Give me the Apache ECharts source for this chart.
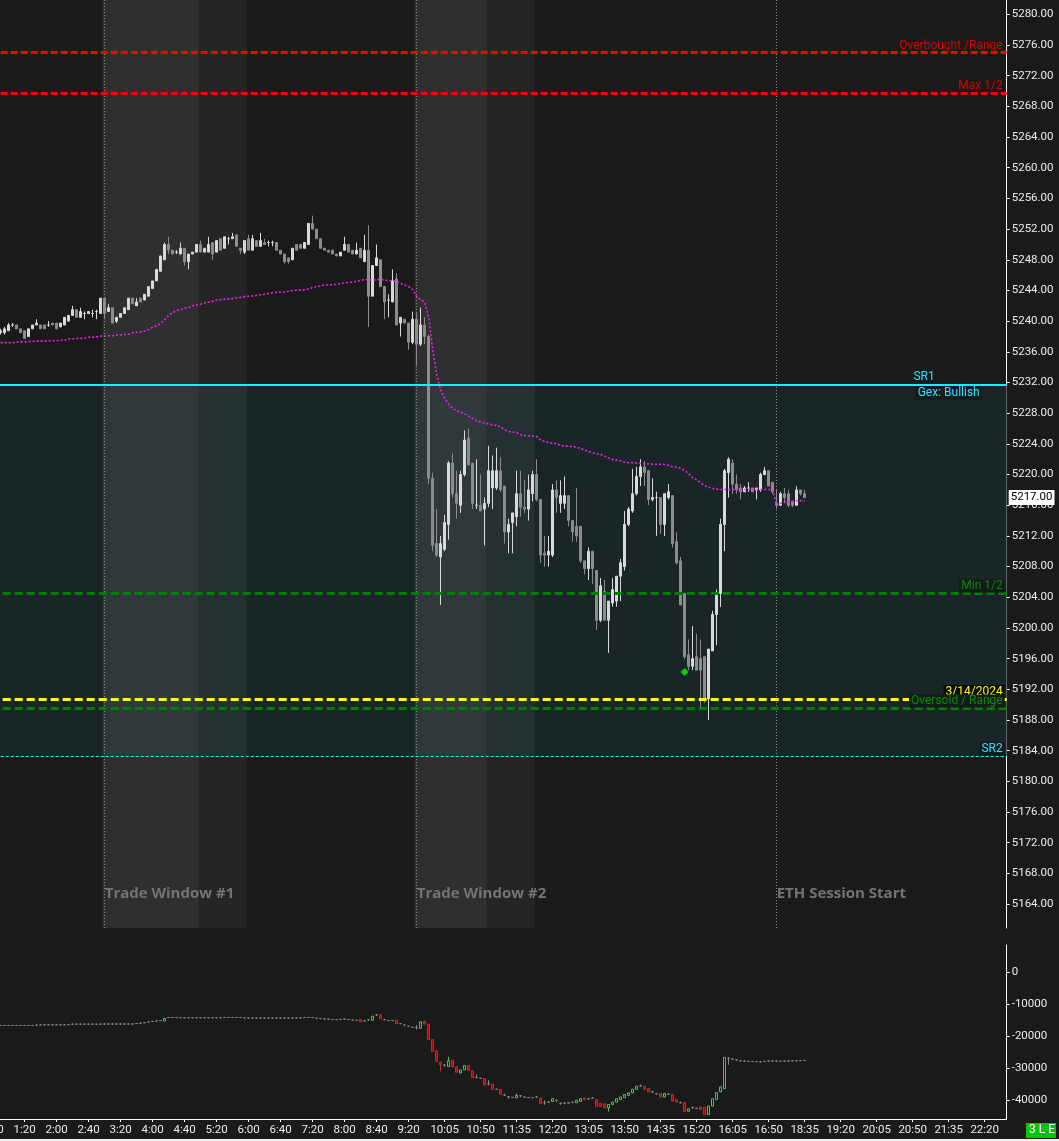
<!DOCTYPE html>
<html><head><meta charset="utf-8">
<script src="https://cdn.jsdelivr.net/npm/echarts@6/dist/echarts.min.js"></script>
<style>html,body{margin:0;padding:0;background:#1a1a1a;overflow:hidden}#c{width:1059px;height:1141px}</style>
</head><body><div id="c"></div><script>
// ---------- categories (5-minute bars, 17:00-18:00 break) ----------
const times = [];
(function(){
  const f = m => Math.floor(m/60) + ':' + String(m%60).padStart(2,'0');
  for (let m = 40; m <= 16*60+55; m += 5) times.push(f(m));
  for (let m = 18*60; m <= 22*60+45; m += 5) times.push(f(m));
})();
const dataStart = '0:50';
const timeTicks = ['0:40','1:20','2:00','2:40','3:20','4:00','4:40','5:20','6:00','6:40','7:20','8:00','8:40','9:20','10:05','10:50','11:35','12:20','13:05','13:50','14:35','15:20','16:05','16:50','18:35','19:20','20:05','20:50','21:35','22:20'];
const priceTicks = [5164,5168,5172,5176,5180,5184,5188,5192,5196,5200,5204,5208,5212,5216,5220,5224,5228,5232,5236,5240,5244,5248,5252,5256,5260,5264,5268,5272,5276,5280];
const flowTicks = [0,-10000,-20000,-30000,-40000];

// ---------- price bars [open, close, low, high] from 0:50 ----------
const priceBars = [
[5238.5,5238.75,5238.25,5239],[5238.5,5239,5238.25,5239.25],[5238.75,5239.5,5238.75,5239.75],[5239.5,5239.5,5239.25,5239.75],[5239.5,5239,5239,5239.5],[5239,5238.5,5238.5,5239],[5238.75,5237.75,5237.75,5238.75],[5238,5239,5238,5239],[5239,5239.5,5239,5239.5],[5239.5,5239.75,5239.5,5240.25],
[5239.5,5239,5239,5239.5],[5239.5,5239,5239,5239.5],[5239.5,5239.5,5239.25,5240],[5239.75,5239.5,5239.5,5239.75],[5239.75,5239,5239,5239.75],[5239.25,5239.75,5239.25,5239.75],[5239.5,5240.5,5239.5,5240.5],[5240,5240.75,5240,5240.75],[5240.75,5241.5,5240.75,5242],[5241.5,5240.5,5240.5,5241.5],
[5240.5,5241.25,5240.5,5241.75],[5241,5241,5240.25,5241.25],[5241,5241.25,5241,5241.25],[5241,5241,5240.5,5241.5],[5241.25,5241.25,5240.25,5241.5],[5241,5243,5241,5243],[5243,5241,5240.25,5243],[5241.25,5241.75,5241.25,5242.25],[5241.75,5239.75,5239.75,5241.75],[5240,5240.5,5239.75,5240.5],
[5240.5,5241,5240.5,5241],[5241,5241.75,5241,5241.75],[5241.5,5243,5241.5,5243],[5243,5242.25,5242.25,5243],[5242,5242.5,5242,5243],[5243,5242.5,5242.5,5243],[5242.75,5243.5,5242.75,5243.5],[5243.25,5244.5,5243.25,5244.5],[5244.25,5245.25,5244.25,5245.25],[5245.25,5246.75,5245.25,5246.75],
[5246.5,5248.5,5246.5,5248.5],[5248,5250,5248,5250.25],[5250,5249.25,5248.75,5251],[5249.25,5248.75,5248.75,5249.25],[5249,5249,5248.75,5249.25],[5248.75,5249.5,5248.75,5250.25],[5249.5,5247.75,5247.25,5249.5],[5247.75,5248.75,5246.75,5248.75],[5248.75,5249,5248.75,5249],[5249,5250,5249,5250],
[5250,5249,5249,5250.5],[5249,5249.5,5249,5249.5],[5249,5250,5249,5251],[5250.25,5248.75,5248,5250.25],[5249,5250.5,5249,5250.5],[5250.75,5249.25,5249.25,5250.75],[5249.5,5251,5249.5,5251],[5250.75,5250.75,5250,5251],[5250.75,5251,5250.75,5251.5],[5251.25,5249.75,5249.75,5251.25],
[5249.5,5249.25,5248.75,5249.5],[5249,5250.5,5248.75,5250.5],[5250.75,5249.25,5249.25,5251.25],[5249.25,5250.75,5249.25,5251.25],[5250.5,5249.75,5249.75,5250.5],[5249.75,5250.5,5249.75,5251.5],[5250.25,5250,5250,5250.75],[5250.25,5250.25,5249.75,5250.5],[5250.25,5250.25,5249.75,5250.5],[5250.25,5249.25,5249.25,5250.25],
[5249.25,5248.75,5248.75,5249.25],[5248.75,5247.75,5247.5,5248.75],[5248.25,5247.75,5247.5,5248.25],[5248,5249.5,5248,5249.5],[5250,5249.25,5249.25,5250],[5250,5249.5,5249.5,5250],[5249.5,5250.25,5249.5,5250.25],[5250,5252.75,5250,5252.75],[5252.75,5252,5252,5253.75],[5252,5250.75,5250.75,5252],
[5250.75,5249.5,5249.5,5250.75],[5249.5,5249.25,5249.25,5249.5],[5249.25,5249,5249,5249.25],[5249.25,5248.75,5248.75,5249.25],[5248.75,5248.5,5248.5,5248.75],[5248.5,5249,5248.5,5249],[5249.25,5250,5249.25,5251],[5250,5249,5249,5250],[5249.25,5248.75,5248.75,5249.25],[5248.75,5249.25,5248.75,5250.25],
[5249.5,5248.25,5248.25,5249.5],[5247.75,5249.25,5247.75,5251.25],[5249.25,5243.25,5239.25,5252.5],[5243.25,5247.25,5243.25,5247.25],[5247.25,5248.25,5247.25,5250],[5248,5244.5,5244.5,5248],[5244.5,5242.5,5240.25,5244.5],[5242.75,5242.75,5240.5,5243.5],[5242.5,5245.25,5242.5,5246.75],[5245.5,5239.5,5239.5,5246.25],
[5239.75,5240.5,5238,5240.5],[5240.25,5239.75,5239.75,5240.25],[5239.75,5237.25,5236.25,5239.75],[5237.25,5240.25,5237,5241.25],[5240.25,5237,5234.25,5241],[5237,5239.5,5236.75,5241.75],[5239.5,5238,5237,5240.5],[5238,5219.5,5218.75,5238.25],[5219.5,5210.75,5210,5220.25],[5211,5209.5,5209.25,5215.5],
[5209.25,5211,5203,5212],[5210.25,5213.75,5210,5214.75],[5213.5,5221.5,5211.5,5221.75],[5221.5,5217.5,5217,5222.75],[5217.5,5216.25,5214.25,5220.5],[5216,5220,5215,5220.5],[5220,5224.5,5219.75,5225.75],[5224.75,5221.25,5221.25,5226],[5221.5,5216.25,5215.5,5221.5],[5216,5216,5215.5,5222],
[5216,5215.25,5215.25,5220],[5215.5,5216.25,5210.75,5217],[5216.25,5220.5,5215.75,5223.75],[5218.25,5220.5,5215.5,5222.5],[5218.25,5220.5,5218,5223.5],[5220.5,5218,5217.75,5222.25],[5218.5,5212.5,5211,5218.5],[5212.5,5213.5,5209.75,5214.25],[5213.75,5215,5209.75,5215],[5214.5,5217.5,5213.25,5220.5],
[5217.5,5215.75,5214.5,5220.5],[5215.75,5215.5,5215,5219.25],[5215.5,5218,5214,5220],[5217.5,5220,5216.5,5220.5],[5220,5216.75,5216.5,5222],[5216.75,5209.5,5208.5,5216.75],[5209.75,5209.5,5208,5212],[5209.5,5210,5208,5212],[5209.5,5218,5209.25,5218.75],[5218,5217,5215,5219.25],
[5216.25,5217.25,5215,5219.25],[5216.25,5217.25,5215.5,5219.75],[5217.25,5214,5213.25,5217.25],[5214,5212.5,5211.25,5214],[5213.25,5212,5211.25,5218.25],[5213.25,5208.75,5208.5,5213.25],[5208.75,5207.75,5207,5208.75],[5207.75,5210,5206.25,5210.5],[5210,5207.75,5205.75,5210],[5207.5,5201,5199.75,5207.5],
[5201,5205.5,5200.75,5206.5],[5204.75,5201,5201,5206.25],[5201,5203.5,5196.75,5203.5],[5203.25,5205,5202.75,5206.5],[5203.5,5206.75,5202.75,5206.75],[5206.75,5208.5,5203.5,5209],[5208,5213.5,5207.5,5215.25],[5213.5,5215.5,5213.25,5215.75],[5215.25,5217.5,5215,5220.75],[5217.5,5219.75,5217.25,5221],
[5219.75,5221,5218.5,5222],[5221,5220.25,5218.5,5221.75],[5220.5,5216.75,5216,5220.5],[5216.75,5217,5216.5,5219.5],[5217,5217,5212,5217.75],[5217,5213.5,5212.25,5217],[5213.5,5217.5,5212,5217.5],[5217,5217.75,5216.75,5218.75],[5217.25,5211,5210.5,5217.25],[5211.25,5208.5,5208.25,5212.5],
[5208.75,5203,5203,5209.25],[5204.5,5196.25,5196,5204.5],[5196.5,5195,5194.5,5198.5],[5195,5196,5194.5,5200.25],[5196.25,5194.5,5194.5,5199.25],[5196,5194.5,5189.5,5198.5],[5196.25,5190.75,5190.25,5196.25],[5190.75,5197.25,5188,5197.25],[5197,5201.75,5197,5202.25],[5201.75,5204.5,5197.75,5205],
[5204.5,5213.5,5202.75,5214.25],[5213.5,5220.5,5210,5220.75],[5220.25,5222,5217,5222.25],[5221.5,5218.75,5217.5,5222],[5218.75,5218,5217.5,5220],[5218.25,5217.75,5216.75,5218.75],[5217.75,5218.25,5217.75,5218.5],[5218.25,5218.25,5217.75,5219],[5218.25,5217.75,5217.75,5218.25],[5218,5218.25,5216.75,5218.25],
[5218,5220,5217.75,5220.25],[5220,5220.5,5220,5221],[5220.5,5218.5,5218.5,5220.5],[5219,5217.75,5217.5,5219],[5216.25,5216,5215.5,5218],[5216,5217.5,5216,5217.75],[5217.5,5217,5216.25,5218.25],[5217.5,5216,5215.75,5218],[5216.5,5216,5215.75,5216.5],[5216,5218,5216,5218.5],
[5218,5217.5,5217.25,5218],[5217.5,5217,5217,5218]
];

// ---------- VWAP from 0:50 ----------
const vwap = [
5237.2,5237.2,5237.2,5237.2,5237.25,5237.3,5237.3,5237.35,5237.35,5237.4,
5237.4,5237.4,5237.45,5237.45,5237.45,5237.5,5237.5,5237.7,5237.7,5237.75,
5237.75,5237.8,5237.9,5237.9,5237.95,5238.05,5238.05,5238.1,5238.1,5238.2,
5238.2,5238.25,5238.3,5238.5,5238.55,5238.6,5238.7,5238.9,5239.2,5239.4,
5239.7,5240.2,5240.8,5241.1,5241.4,5241.5,5241.7,5241.8,5242.0,5242.1,
5242.2,5242.4,5242.5,5242.6,5242.75,5242.8,5242.85,5242.9,5242.95,5243.05,
5243.1,5243.2,5243.25,5243.3,5243.35,5243.45,5243.5,5243.6,5243.7,5243.75,
5243.8,5243.8,5243.9,5244.0,5244.05,5244.05,5244.1,5244.2,5244.4,5244.5,
5244.6,5244.7,5244.75,5244.75,5244.8,5244.9,5245.0,5245.05,5245.1,5245.2,
5245.3,5245.45,5245.4,5245.35,5245.4,5245.45,5245.35,5245.3,5245.25,5245.2,
5244.9,5244.7,5244.5,5244.1,5243.2,5242.8,5242.45,5240.5,5236.25,5233.0,
5231.0,5229.9,5229.2,5228.6,5228.3,5228.1,5227.9,5227.6,5227.3,5227.0,
5226.85,5226.7,5226.6,5226.45,5226.4,5226.2,5225.8,5225.6,5225.55,5225.45,
5225.2,5225.1,5225.05,5225.0,5224.95,5224.5,5224.3,5224.15,5224.1,5224.0,
5223.8,5223.7,5223.7,5223.65,5223.55,5223.4,5223.2,5223.0,5222.85,5222.7,
5222.6,5222.4,5222.15,5221.95,5221.9,5221.8,5221.6,5221.55,5221.55,5221.5,
5221.45,5221.4,5221.4,5221.35,5221.35,5221.35,5221.3,5221.2,5221.0,5220.95,
5220.8,5220.5,5220.1,5219.6,5219.3,5218.95,5218.55,5218.35,5218.2,5218.1,
5218.05,5218.05,5218.05,5218.05,5218.05,5218.05,5218.05,5218.05,5218.05,5218.05,
5218.05,5218.05,5218.05,5218.0,5216.0,5216.25,5216.4,5216.4,5216.5,5216.6,
5216.6,5216.6
];

// ---------- lower panel bars [open, close, low, high] from 0:50 ----------
const flowBars = [
[-16700,-16700,-16800,-16650],[-16700,-16700,-16800,-16650],[-16700,-16700,-16800,-16650],[-16700,-16700,-16800,-16650],[-16700,-16700,-16800,-16650],[-16700,-16700,-16800,-16650],[-16700,-16700,-16800,-16650],[-16700,-16700,-16800,-16650],[-16700,-16700,-16800,-16650],[-16600,-16600,-16700,-16500],
[-16550,-16550,-16650,-16450],[-16500,-16500,-16600,-16400],[-16500,-16500,-16600,-16400],[-16500,-16500,-16600,-16400],[-16500,-16500,-16600,-16400],[-16500,-16500,-16600,-16400],[-16500,-16500,-16600,-16400],[-16450,-16450,-16550,-16350],[-16300,-16300,-16400,-16200],[-16300,-16300,-16400,-16200],
[-16300,-16300,-16400,-16200],[-16300,-16300,-16400,-16200],[-16300,-16300,-16400,-16200],[-16300,-16300,-16400,-16200],[-16300,-16300,-16400,-16200],[-16300,-16300,-16400,-16200],[-16250,-16250,-16350,-16150],[-16250,-16250,-16350,-16150],[-16250,-16250,-16350,-16150],[-16250,-16250,-16350,-16150],
[-16250,-16250,-16350,-16150],[-16250,-16250,-16350,-16150],[-16250,-16250,-16350,-16150],[-16250,-16250,-16350,-16150],[-16100,-16100,-16200,-16000],[-16000,-16000,-16100,-15900],[-15850,-15850,-15950,-15750],[-15600,-15600,-15700,-15500],[-15450,-15450,-15550,-15350],[-15300,-15300,-15400,-15200],
[-15200,-15200,-15300,-15100],[-15300,-14450,-15300,-14400],[-14250,-14250,-14350,-14150],[-14200,-14200,-14300,-14100],[-14250,-14250,-14350,-14150],[-14300,-14300,-14400,-14200],[-14300,-14300,-14400,-14200],[-14300,-14300,-14400,-14200],[-14300,-14300,-14400,-14200],[-14300,-14300,-14400,-14200],
[-14300,-14300,-14400,-14200],[-14300,-14300,-14400,-14200],[-14300,-14300,-14400,-14200],[-14300,-14300,-14400,-14200],[-14300,-14300,-14400,-14200],[-14300,-14300,-14400,-14200],[-14200,-14200,-14300,-14100],[-14200,-14200,-14300,-14100],[-14200,-14200,-14300,-14100],[-14200,-14200,-14300,-14100],
[-14200,-14200,-14300,-14100],[-14350,-14350,-14450,-14250],[-14350,-14350,-14450,-14250],[-14350,-14350,-14450,-14250],[-14350,-14350,-14450,-14250],[-14350,-14350,-14450,-14250],[-14350,-14350,-14450,-14250],[-14350,-14350,-14450,-14250],[-14350,-14350,-14450,-14250],[-14350,-14350,-14450,-14250],
[-14350,-14350,-14450,-14250],[-14350,-14350,-14450,-14250],[-14350,-14350,-14450,-14250],[-14350,-14350,-14450,-14250],[-14350,-14350,-14450,-14250],[-14350,-14350,-14450,-14250],[-14200,-14200,-14300,-14100],[-14200,-14200,-14300,-14100],[-14200,-14200,-14300,-14100],[-14450,-14450,-14550,-14350],
[-14550,-14550,-14650,-14450],[-14650,-14650,-14750,-14550],[-14750,-14750,-14850,-14650],[-14850,-14850,-15000,-14700],[-14900,-14900,-15000,-14800],[-14800,-14800,-14900,-14700],[-14700,-14700,-14800,-14600],[-14850,-14850,-14950,-14750],[-15000,-15000,-15100,-14900],[-15100,-15100,-15200,-15000],
[-14800,-15600,-15650,-14750],[-15300,-15300,-15600,-15000],[-14900,-14900,-15200,-14700],[-15100,-13800,-15200,-13700],[-13400,-13400,-13700,-13100],[-13400,-14650,-14700,-13300],[-14900,-14900,-15100,-14700],[-15200,-15200,-15300,-15000],[-15200,-15200,-15300,-15050],[-15100,-16100,-16150,-15000],
[-16150,-16150,-16300,-16050],[-16550,-16550,-16700,-16450],[-16950,-16950,-17100,-16850],[-17300,-17300,-17450,-17200],[-17400,-17400,-17950,-16550],[-17600,-15600,-17700,-15400],[-15400,-16250,-16400,-15300],[-16300,-21100,-21200,-16200],[-21100,-24800,-24900,-21000],[-24600,-27950,-28000,-24500],
[-28200,-29000,-31150,-28100],[-29100,-29100,-29600,-28900],[-29550,-27750,-29600,-26500],[-27550,-29650,-29700,-27450],[-29650,-31350,-31400,-29550],[-31550,-30600,-31600,-30500],[-30600,-29250,-30650,-29150],[-29250,-30750,-30800,-29150],[-30850,-33050,-33100,-30750],[-32950,-32950,-33250,-32000],
[-33200,-33200,-33300,-33100],[-33250,-35350,-35400,-33150],[-35000,-35000,-35400,-33800],[-35050,-36650,-36700,-34950],[-36650,-36650,-36800,-36500],[-36650,-38200,-38250,-36550],[-38450,-38450,-38750,-38100],[-38950,-38950,-39600,-38850],[-39200,-39200,-39400,-39000],[-39300,-38550,-39400,-38000],
[-38700,-38700,-39100,-38500],[-39100,-39100,-39250,-38950],[-39250,-39250,-39400,-39100],[-39250,-39250,-39400,-39100],[-39050,-39050,-39200,-38800],[-39400,-41150,-41200,-39300],[-40850,-40850,-41500,-40100],[-40650,-40650,-40800,-40500],[-40450,-39600,-40500,-39500],[-40100,-40100,-40650,-40000],
[-41050,-41050,-41500,-40750],[-40950,-40950,-41300,-40800],[-40900,-40900,-41100,-40800],[-40700,-40700,-40900,-40550],[-40850,-40100,-40900,-40000],[-40450,-39600,-40500,-39500],[-39400,-39900,-40000,-39300],[-39600,-39600,-39950,-39400],[-39400,-39400,-39600,-39200],[-39800,-42000,-42100,-39700],
[-41050,-42000,-42100,-41000],[-41200,-42450,-42500,-41100],[-42450,-41400,-43600,-41300],[-41400,-40650,-41450,-40550],[-40650,-39600,-40700,-39500],[-39850,-39050,-39900,-38950],[-39250,-38300,-39300,-38200],[-38550,-37800,-38600,-37700],[-37800,-36650,-37850,-36500],[-36650,-35700,-36700,-35600],
[-35600,-35600,-35800,-35150],[-35700,-36650,-36700,-35600],[-36400,-37450,-37500,-36300],[-37450,-37450,-37800,-37150],[-38000,-38000,-38350,-37800],[-38000,-39050,-39100,-37900],[-39050,-38000,-39100,-37900],[-38150,-38150,-38350,-38000],[-38250,-40350,-40400,-38150],[-39900,-40650,-40700,-39800],
[-40850,-40850,-41000,-40500],[-40850,-43600,-43650,-40750],[-43500,-42750,-43550,-42650],[-42300,-42300,-42800,-42200],[-42600,-42600,-42800,-42400],[-42200,-42950,-43000,-42100],[-42250,-44550,-44600,-42150],[-44550,-41900,-44600,-41800],[-41900,-39600,-41950,-39500],[-39900,-37700,-39950,-37600],
[-37450,-35900,-37500,-35800],[-36400,-26700,-36450,-26600],[-26950,-26950,-29000,-26600],[-27200,-27200,-27400,-27000],[-27500,-27500,-27700,-27400],[-27750,-27750,-27900,-27600],[-27850,-27850,-28000,-27700],[-27950,-27950,-28100,-27850],[-27950,-27950,-28100,-27850],[-28000,-28000,-28100,-27900],
[-28100,-28100,-28250,-27950],[-27950,-27950,-28150,-27750],[-27800,-27800,-27950,-27650],[-27800,-27800,-27900,-27650],[-27850,-27850,-28000,-27700],[-27900,-27900,-28000,-27800],[-27850,-27850,-27950,-27700],[-27800,-27800,-27900,-27650],[-27750,-27750,-27850,-27650],[-27750,-27750,-27900,-27600],
[-27700,-27700,-27800,-27550],[-27650,-27650,-27750,-27500]
];

// ---------- levels / annotations ----------
const levelNames  = ['Overbought /Range','Max 1/2','SR1','Min 1/2','3/14/2024','Oversold / Range','SR2'];
const levelValues = [5275, 5269.75, 5231.75, 5204.5, 5190.75, 5189.5, 5183.25];
const gexLabel = 'Gex: Bullish';
const windowStarts = ['3:00','9:30'];
const windowMids   = ['5:00','11:00'];
const windowEnds   = ['6:00','12:00'];
const windowLabels = ['Trade Window #1','Trade Window #2'];
const sessionTime = '18:00';
const sessionLabel = 'ETH Session Start';
const signalTimes = ['15:05'];
const signalPrices = [5194.25];

// ---------- build ----------
const idx = t => times.indexOf(t);
const off = idx(dataStart);
const padBars = Array.from({length: off}, () => ['-','-','-','-']);
const padVals = Array.from({length: off}, () => '-');
const lastClose = priceBars[priceBars.length-1][1];

const FONT = 'Roboto, "Noto Sans", sans-serif';
const axisLabelStyle = {color:'#ececec', fontSize:11.5, fontFamily: FONT};

const levelStyle = {
  'Overbought /Range': {line:{color:'#ff0000',width:3,type:[7,3]}, text:'#d80000', bg:null},
  'Max 1/2':           {line:{color:'#ff0000',width:3,type:[7,3]}, text:'#d80000', bg:null},
  'SR1':               {line:{color:'#00ffff',width:2,type:'solid'}, text:'#30e0ff', bg:null, dx:70},
  'Min 1/2':           {line:{color:'#008000',width:3,type:[8,4]}, text:'#0a8a0a', bg:'#131b1b'},
  '3/14/2024':         {line:{color:'#ffff00',width:3,type:[8,4]}, text:'#ffff00', bg:'#050505'},
  'Oversold / Range':  {line:{color:'#008000',width:3,type:[8,4]}, text:'#0a8a0a', bg:'#131b1b'},
  'SR2':               {line:{color:'#00ffff',width:1,type:[3,2]}, text:'#30e0ff', bg:'#131b1b'}
};
const hidden = {color:'rgba(0,0,0,0)', width:0};

const levelLines = levelNames.map((n,k) => {
  const s = levelStyle[n];
  return {
    yAxis: levelValues[k],
    lineStyle: s.line,
    label: {show:true, formatter:n, position:'insideEndTop', distance:[(s.dx||2), 1],
            color:s.text, fontSize:12, fontFamily:FONT, backgroundColor: s.bg || 'transparent', padding:[1,2,0,2]}
  };
});
levelLines.push({
  yAxis: levelValues[levelNames.indexOf('SR1')],
  lineStyle: hidden,
  label:{show:true, formatter:gexLabel, position:'insideEndBottom', distance:[25,2], color:'#30e0ff',
         fontSize:12, fontFamily:FONT, backgroundColor:'#131b1b', padding:[1,2,0,2]}
});
levelLines.push({
  yAxis: lastClose, lineStyle: hidden,
  label:{show:true, formatter: lastClose.toFixed(2), position:'end', distance:2, color:'#000', backgroundColor:'#fff',
         fontSize:11.5, fontFamily:FONT, padding:[2,2,1,2]}
});
const vLines = windowStarts.concat([sessionTime]).map(t => ({
  xAxis: idx(t), lineStyle:{color:'#8c8c8c', width:1, type:[1,2]}, label:{show:false}
}));

const areas = [
  [{yAxis: levelValues[2], itemStyle:{color:'#1a2527'}}, {yAxis: levelValues[6]}]
];
windowStarts.forEach((s,k) => {
  areas.push([{xAxis: idx(s)-0.5, itemStyle:{color:'rgba(255,255,255,0.095)'}}, {xAxis: idx(windowMids[k])-0.5}]);
  areas.push([{xAxis: idx(windowMids[k])-0.5, itemStyle:{color:'rgba(255,255,255,0.05)'}}, {xAxis: idx(windowEnds[k])-0.5}]);
});

const labelPrice = 5165.3;
const textMarks = windowStarts.concat([sessionTime]).map((t,k) => ({
  coord:[idx(t), labelPrice], value: k < windowLabels.length ? windowLabels[k] : sessionLabel
}));

const chart = echarts.init(document.getElementById('c'), null, {renderer:'canvas', width:1059, height:1141});
chart.setOption({
  animation:false,
  backgroundColor:'#1a1a1a',
  grid:[
    {left:-9.3, top:0, width:1016, height:928, outerBoundsMode:'none', containLabel:false},
    {left:-9.3, top:945, width:1016, height:174, outerBoundsMode:'none', containLabel:false}
  ],
  xAxis:[
    {type:'category', gridIndex:0, data:times, show:false, boundaryGap:true, axisLine:{onZero:false}},
    {type:'value', gridIndex:0, min:-0.5, max:times.length-0.5, show:false, axisLine:{onZero:false}},
    {type:'category', gridIndex:1, data:times, boundaryGap:true, position:'bottom',
     axisLine:{onZero:false, lineStyle:{color:'#ffffff', width:1}},
     axisTick:{show:true, alignWithLabel:true, length:3, lineStyle:{color:'#ffffff'}, interval:(i,v)=>timeTicks.includes(v)},
     axisLabel:{...axisLabelStyle, margin:5, interval:(i,v)=>timeTicks.includes(v)},
     splitLine:{show:false}}
  ],
  yAxis:[
    {type:'value', gridIndex:0, position:'right', min:5160.88, max:5281.87,
     axisLine:{show:true, onZero:false, lineStyle:{color:'#ffffff', width:1}},
     axisTick:{show:true, length:3, lineStyle:{color:'#ffffff'}, customValues:priceTicks},
     axisLabel:{...axisLabelStyle, margin:5, customValues:priceTicks, formatter:v=>Number(v).toFixed(2)},
     splitLine:{show:false}},
    {type:'value', gridIndex:1, position:'right', min:-45937.5, max:8437.5,
     axisLine:{show:true, onZero:false, lineStyle:{color:'#ffffff', width:1}},
     axisTick:{show:true, length:3, lineStyle:{color:'#ffffff'}, customValues:flowTicks},
     axisLabel:{...axisLabelStyle, margin:5, customValues:flowTicks, formatter:v=>String(v)},
     splitLine:{show:false}}
  ],
  series:[
    {type:'line', name:'overlay', xAxisIndex:1, yAxisIndex:0, data:[], clip:false, silent:true,
     markArea:{silent:true, data:areas},
     markLine:{silent:true, symbol:['none','none'], data: vLines.concat(levelLines), animation:false},
     markPoint:{silent:true, symbol:'circle', symbolSize:0, itemStyle:{color:'transparent'},
       label:{show:true, position:'right', distance:0, formatter:p=>p.value, color:'#747474',
              fontSize:15, fontWeight:'bold', fontFamily:'"Open Sans", sans-serif'},
       data:textMarks}
    },
    {type:'candlestick', name:'price', xAxisIndex:0, yAxisIndex:0, barWidth:3,
     data: padBars.concat(priceBars),
     itemStyle:{color:'#d9d9d9', color0:'#8c8c8c', borderColor:'#d9d9d9', borderColor0:'#8c8c8c', borderColorDoji:'#d9d9d9', borderWidth:1}},
    {type:'line', name:'VWAP', xAxisIndex:0, yAxisIndex:0, data: padVals.concat(vwap), symbol:'none',
     lineStyle:{color:'#ee22ee', width:1.6, type:[2,2]}, z:3},
    {type:'scatter', name:'signal', xAxisIndex:0, yAxisIndex:0, symbol:'diamond', symbolSize:8,
     itemStyle:{color:'#00ff00'}, data: signalTimes.map((t,k)=>[t, signalPrices[k]]), z:4},
    {type:'candlestick', name:'flow', xAxisIndex:2, yAxisIndex:1, barWidth:3,
     data: padBars.concat(flowBars),
     itemStyle:{color:'#1a1a1a', color0:'#b00000', borderColor:'#44c844', borderColor0:'#b03030', borderColorDoji:'#8a8a8a', borderWidth:1}}
  ],
  graphic:[
    {type:'rect', left:1026, top:1123, shape:{width:30, height:15}, style:{fill:'#00c800'}},
    {type:'text', left:1029, top:1124, style:{text:'3 L E', fill:'#ffffff', font:'12px Roboto, sans-serif'}},
    {type:'rect', left:0, top:1139, shape:{width:1059, height:2}, style:{fill:'#efefef'}}
  ]
});
</script></body></html>
